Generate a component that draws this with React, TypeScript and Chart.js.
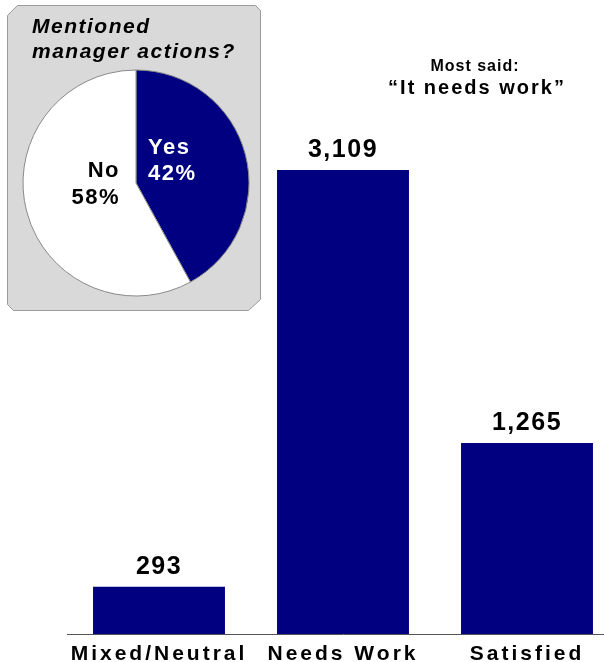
import React, { useEffect, useRef } from "react";
import { Chart, registerables } from "chart.js";

Chart.register(...registerables);

// ---- data ----
const categories = ["Mixed/Neutral", "Needs Work", "Satisfied"];
const counts = [293, 3109, 1265];
const pieLabels = ["Yes", "No"];
const pieValues = [42, 58];
const insetTitle = ["Mentioned", "manager actions?"];
const noteLines = ["Most said:", "\u201CIt needs work\u201D"];

const FONT = "'Liberation Sans', Arial, Helvetica, sans-serif";
const NAVY = "#000080";

export default function App() {
  const barRef = useRef<HTMLCanvasElement | null>(null);
  const pieRef = useRef<HTMLCanvasElement | null>(null);

  useEffect(() => {
    if (!barRef.current || !pieRef.current) return;

    const spacingPlugin = (px: string) => ({
      id: "spacing" + px.replace(".", "_"),
      beforeDraw(chart: any) {
        (chart.ctx as any).letterSpacing = px;
      },
    });

    const barLabels = {
      id: "barLabels",
      afterDatasetsDraw(chart: any) {
        const ctx = chart.ctx;
        const meta = chart.getDatasetMeta(0);
        ctx.save();
        (ctx as any).letterSpacing = "1.5px";
        ctx.font = `bold 25px ${FONT}`;
        ctx.fillStyle = "#000";
        ctx.textAlign = "center";
        ctx.textBaseline = "alphabetic";
        meta.data.forEach((bar: any, i: number) => {
          const v = chart.data.datasets[0].data[i] as number;
          ctx.fillText(v.toLocaleString("en-US"), bar.x, bar.y - 13);
        });
        ctx.restore();
      },
      afterDraw(chart: any) {
        const ctx = chart.ctx;
        ctx.save();
        ctx.fillStyle = "#000";
        ctx.textAlign = "center";
        ctx.textBaseline = "alphabetic";
        (ctx as any).letterSpacing = "1px";
        ctx.font = `bold 16px ${FONT}`;
        ctx.fillText(noteLines[0], 475, 71);
        (ctx as any).letterSpacing = "2px";
        ctx.font = `bold 20px ${FONT}`;
        ctx.fillText(noteLines[1], 477, 94);
        ctx.restore();
      },
    };

    const bar = new Chart(barRef.current, {
      type: "bar",
      data: {
        labels: categories,
        datasets: [
          {
            data: counts,
            backgroundColor: NAVY,
            borderWidth: 0,
            barPercentage: 0.717,
            categoryPercentage: 1,
            base: -26,
          } as any,
        ],
      },
      options: {
        responsive: false,
        animation: false,
        devicePixelRatio: 1,
        layout: { padding: { left: 67, right: 1, top: 38, bottom: 0 } },
        plugins: { legend: { display: false }, tooltip: { enabled: false } },
        scales: {
          x: {
            grid: { display: false },
            border: { display: true, color: "#555", width: 1 },
            ticks: {
              color: "#000",
              font: { size: 21, weight: "bold", family: FONT },
              padding: 0,
              autoSkip: false,
              maxRotation: 0,
            },
            afterFit: (s: any) => {
              s.height = 28;
            },
          },
          y: { display: false, min: -26, max: 4000 },
        },
      } as any,
      plugins: [spacingPlugin("3px"), barLabels],
    });

    const insetBox = {
      id: "insetBox",
      beforeDraw(chart: any) {
        const ctx = chart.ctx;
        const L = 7.5, T = 5.5, R = 260.5, B = 310.5;
        ctx.save();
        ctx.beginPath();
        ctx.moveTo(L + 10, T);
        ctx.lineTo(R - 5, T);
        ctx.lineTo(R, T + 5);
        ctx.lineTo(R, B - 11);
        ctx.lineTo(R - 12, B);
        ctx.lineTo(L + 6, B);
        ctx.lineTo(L, B - 6);
        ctx.lineTo(L, T + 10);
        ctx.closePath();
        ctx.fillStyle = "#d9d9d9";
        ctx.fill();
        ctx.strokeStyle = "#9a9a9a";
        ctx.lineWidth = 1;
        ctx.stroke();
        ctx.fillStyle = "#000";
        ctx.textAlign = "left";
        ctx.textBaseline = "alphabetic";
        (ctx as any).letterSpacing = "1.5px";
        ctx.font = `italic bold 21px ${FONT}`;
        ctx.fillText(insetTitle[0], 32, 33);
        ctx.fillText(insetTitle[1], 32, 58);
        ctx.restore();
      },
    };

    const pieText = {
      id: "pieText",
      afterDatasetsDraw(chart: any) {
        const ctx = chart.ctx;
        const meta = chart.getDatasetMeta(0);
        const values = chart.data.datasets[0].data as number[];
        const labels = chart.data.labels as string[];
        const a0 = meta.data[0];
        const a1 = meta.data[1];
        ctx.save();
        (ctx as any).letterSpacing = "1.5px";
        ctx.font = `bold 22px ${FONT}`;
        ctx.textBaseline = "alphabetic";
        ctx.textAlign = "left";
        ctx.fillStyle = "#fff";
        ctx.fillText(labels[0], a0.x + 12, a0.y - 29);
        ctx.fillText(values[0] + "%", a0.x + 12, a0.y - 3);
        ctx.textAlign = "right";
        ctx.fillStyle = "#000";
        ctx.fillText(labels[1], a1.x - 16, a1.y - 6);
        ctx.fillText(values[1] + "%", a1.x - 16, a1.y + 21);
        ctx.restore();
      },
    };

    const pie = new Chart(pieRef.current, {
      type: "pie",
      data: {
        labels: pieLabels,
        datasets: [
          {
            data: pieValues,
            backgroundColor: [NAVY, "#ffffff"],
            borderColor: "#8a8a8a",
            borderWidth: 1,
            hoverOffset: 0,
            offset: 0,
          },
        ],
      },
      options: {
        responsive: false,
        animation: false,
        devicePixelRatio: 1,
        radius: 113,
        layout: { padding: { left: 20, right: 18, top: 60, bottom: 14 } },
        plugins: { legend: { display: false }, tooltip: { enabled: false } },
      } as any,
      plugins: [insetBox, pieText],
    });

    return () => {
      bar.destroy();
      pie.destroy();
    };
  }, []);

  return (
    <div
      style={{
        position: "fixed",
        left: 0,
        top: 0,
        width: 604,
        height: 662,
        overflow: "hidden",
        background: "#fff",
      }}
    >
      <canvas
        ref={barRef}
        width={620}
        height={662}
        style={{ position: "absolute", left: 0, top: 0 }}
      />
      <canvas
        ref={pieRef}
        width={270}
        height={320}
        style={{ position: "absolute", left: 0, top: 0 }}
      />
    </div>
  );
}
